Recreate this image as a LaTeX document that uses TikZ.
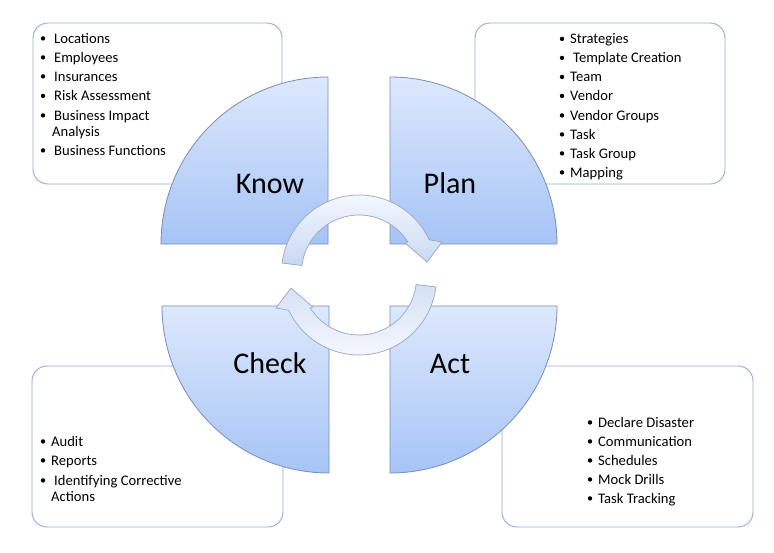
\documentclass[tikz,border=0pt]{standalone}
\usepackage{fontspec}
\setmainfont{Carlito}
\usetikzlibrary{calc}
\definecolor{boxline}{HTML}{8FAADC}
\definecolor{qtop}{HTML}{DDE8FC}
\definecolor{qbot}{HTML}{A6C4F6}
\definecolor{qline}{HTML}{7A8DB0}
\definecolor{aline}{HTML}{9AA6BC}
\definecolor{atop}{HTML}{F7F9FE}
\definecolor{abot}{HTML}{C8D8F3}
\begin{document}
\begin{tikzpicture}[x=1pt,y=-1pt,
 listbox/.style={draw=boxline, line width=0.9pt, rounded corners=15pt, fill=white},
 quad/.style={draw=qline, line width=0.8pt, top color=qtop, bottom color=qbot},
 cyca/.style={draw=aline, line width=0.7pt, top color=atop, bottom color=abot},
 cycb/.style={draw=aline, line width=0.7pt, top color=abot!80!white, bottom color=atop},
 item/.style={anchor=base west, inner sep=0pt, font=\fontsize{14.6}{19}\selectfont},
 big/.style={anchor=base, inner sep=0pt, font=\fontsize{30}{36}\selectfont},
 dot/.style={fill=black}]
\useasboundingbox (0,0) rectangle (774,552);
\fill[white] (0,0) rectangle (774,552);
% list boxes
\draw[listbox] (33,23) rectangle (282,184);
\draw[listbox] (475,23) rectangle (725,184);
\draw[listbox] (32,366) rectangle (283,527);
\draw[listbox] (502,366) rectangle (753,527);
% quadrants
\draw[quad] (328,244) -- (161,244) arc[start angle=180,end angle=270,radius=167] -- cycle;
\draw[quad] (390,244) -- (390,77) arc[start angle=270,end angle=360,radius=167] -- cycle;
\draw[quad] (329,306) -- (162,306) arc[start angle=180,end angle=90,radius=167] -- cycle;
\draw[quad] (390,306) -- (557,306) arc[start angle=0,end angle=90,radius=167] -- cycle;
% cycle arrows
\coordinate (tc) at (359,272.5);
\coordinate (bc) at (359,277.5);
\draw[cyca] ($(tc)+(187:77.5)$) arc[start angle=187,end angle=335,radius=77.5]
  -- (442,242) -- (427,262) -- (405,243) -- ($(tc)+(328:57.5)$)
  arc[start angle=328,end angle=187,radius=57.5] -- cycle;
\draw[cycb] ($(bc)+(7:77.5)$) arc[start angle=7,end angle=155,radius=77.5]
  -- (276,308) -- (291,288) -- (313,307) -- ($(bc)+(148:57.5)$)
  arc[start angle=148,end angle=7,radius=57.5] -- cycle;
% big labels
\node[big] (know) at (270,193) {Know};
\node[big] (plan) at (450,193) {Plan};
\node[big] (check) at (270,373) {Check};
\node[big] (act) at (450,373) {Act};
% top-left list
\foreach \yy in {43,62,81,100.5,120,155} \fill[dot] (43,\yy-4.6) circle (2.2);
\node[item] (k1) at (54,43) {Locations};
\node[item] (k2) at (54,62) {Employees};
\node[item] (k3) at (54,81) {Insurances};
\node[item] (k4) at (54,100.5) {Risk Assessment};
\node[item] (k5) at (54,120) {Business Impact};
\node[item] (k6) at (52,136) {Analysis};
\node[item] (k7) at (54,155) {Business Functions};
% top-right list
\foreach \yy in {43.5,62.5,81.5,100.5,120,139,158,177} \fill[dot] (562,\yy-4.6) circle (2.2);
\node[item] (p1) at (570,43.5) {Strategies};
\node[item] (p2) at (573,62.5) {Template Creation};
\node[item] (p3) at (570,81.5) {Team};
\node[item] (p4) at (570,100.5) {Vendor};
\node[item] (p5) at (570,120) {Vendor Groups};
\node[item] (p6) at (570,139) {Task};
\node[item] (p7) at (570,158) {Task Group};
\node[item] (p8) at (570,177) {Mapping};
% bottom-left list
\foreach \yy in {446,465,485} \fill[dot] (43,\yy-4.6) circle (2.2);
\node[item] (c1) at (51,446) {Audit};
\node[item] (c2) at (51,465) {Reports};
\node[item] (c3) at (54,485) {Identifying Corrective};
\node[item] (c4) at (51,501) {Actions};
% bottom-right list
\foreach \yy in {427,446,465,484,503} \fill[dot] (590,\yy-4.6) circle (2.2);
\node[item] (a1) at (598,427) {Declare Disaster};
\node[item] (a2) at (598,446) {Communication};
\node[item] (a3) at (598,465) {Schedules};
\node[item] (a4) at (598,484) {Mock Drills};
\node[item] (a5) at (598,503) {Task Tracking};
\end{tikzpicture}
\end{document}
